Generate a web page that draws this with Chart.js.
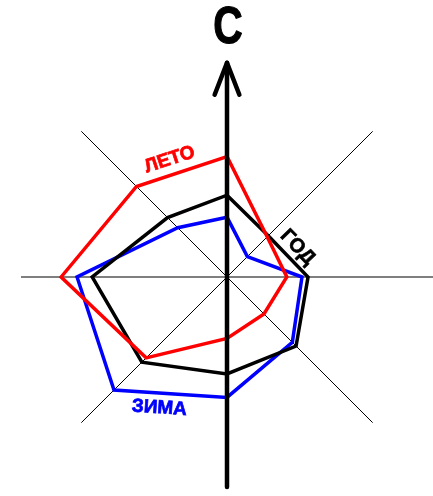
<!DOCTYPE html>
<html>
<head>
<meta charset="utf-8">
<script src="https://cdn.jsdelivr.net/npm/chart.js@4"></script>
<style>
  html, body { margin: 0; padding: 0; background: #fff; }
  #wrap { width: 433px; height: 496px; }
</style>
</head>
<body>
<div id="wrap"><canvas id="rose"></canvas></div>
<script>
// румбы, по часовой стрелке от севера
const directions = ['С', 'СВ', 'В', 'ЮВ', 'Ю', 'ЮЗ', 'З', 'СЗ'];
// повторяемость ветра, %
const summer = [15.9, 7.5, 7.9, 6.9, 8.1, 15.1, 21.9, 16.9];
const year   = [10.8, 7.7, 10.7, 12.9, 12.8, 15.9, 17.8, 11.1];
const winter = [7.9, 3.8, 9.9, 12.2, 15.9, 21.1, 19.8, 9.2];
const scaleMax = 27.2;

const series = [
    { label: 'ЛЕТО', data: summer, color: '#ff0000' },
    { label: 'ГОД', data: year, color: '#000000' },
    { label: 'ЗИМА', data: winter, color: '#0000ff' }
];

// подпись вдоль отрезка между двумя вершинами многоугольника
function segmentLabel(chart, ds, i, j, t, off, text, font) {
    const r = chart.scales.r;
    const data = series[ds].data;
    const a = r.getPointPositionForValue(i, data[i]);
    const b = r.getPointPositionForValue(j, data[j]);
    const ang = Math.atan2(b.y - a.y, b.x - a.x);
    const x = a.x + (b.x - a.x) * t + Math.sin(ang) * off;
    const y = a.y + (b.y - a.y) * t - Math.cos(ang) * off;
    const ctx = chart.ctx;
    ctx.save();
    ctx.translate(x, y);
    ctx.rotate(ang);
    ctx.font = font;
    ctx.fillStyle = series[ds].color;
    ctx.strokeStyle = series[ds].color;
    ctx.lineWidth = 0.7;
    ctx.textAlign = 'center';
    ctx.textBaseline = 'middle';
    ctx.fillText(text, 0, 0);
    ctx.strokeText(text, 0, 0);
    ctx.restore();
}

const roseDecor = {
    id: 'roseDecor',
    afterDatasetsDraw(chart) {
        const ctx = chart.ctx;
        const r = chart.scales.r;
        const cx = r.xCenter, cy = r.yCenter, R = r.drawingArea;
        const top = cy - R * 1.04;
        const bottom = cy + R * 1.02;

        ctx.save();
        ctx.strokeStyle = '#000';
        ctx.lineWidth = 4.5;
        ctx.lineCap = 'round';
        ctx.lineJoin = 'round';
        ctx.beginPath();
        ctx.moveTo(cx, bottom);
        ctx.lineTo(cx, top);
        ctx.stroke();
        ctx.beginPath();
        ctx.moveTo(cx - R * 0.06, top + R * 0.155);
        ctx.lineTo(cx, top);
        ctx.lineTo(cx + R * 0.06, top + R * 0.155);
        ctx.stroke();

        ctx.translate(cx + 1, top - R * 0.165);
        ctx.scale(0.8, 1);
        ctx.font = 'bold 51px "Liberation Sans"';
        ctx.fillStyle = '#000';
        ctx.lineWidth = 1.2;
        ctx.textAlign = 'center';
        ctx.textBaseline = 'middle';
        ctx.fillText(directions[0], 0, 0);
        ctx.strokeText(directions[0], 0, 0);
        ctx.restore();

        segmentLabel(chart, 0, 7, 0, 0.42, 15, series[0].label, 'bold 19px "Liberation Sans"');
        segmentLabel(chart, 1, 1, 2, 0.5, 13, series[1].label, 'bold 20px "Liberation Sans"');
        segmentLabel(chart, 2, 5, 4, 0.41, -15, series[2].label, 'bold 19px "Liberation Sans"');
    }
};

new Chart(document.getElementById('rose'), {
    type: 'radar',
    data: {
        labels: directions,
        datasets: series.map(s => ({
            label: s.label,
            data: s.data,
            borderColor: s.color,
            borderWidth: 3.5,
            borderJoinStyle: 'miter',
            fill: false,
            pointRadius: 0,
            tension: 0
        }))
    },
    options: {
        responsive: true,
        maintainAspectRatio: false,
        animation: false,
        layout: { padding: { left: 21, right: 0, top: 69, bottom: 11 } },
        plugins: {
            legend: { display: false },
            tooltip: { enabled: false }
        },
        scales: {
            r: {
                min: 0,
                max: scaleMax,
                grid: { display: false },
                ticks: { display: false },
                pointLabels: { display: false },
                angleLines: {
                    display: true,
                    color: '#000',
                    lineWidth: 1
                }
            }
        }
    },
    plugins: [roseDecor]
});
</script>
</body>
</html>
